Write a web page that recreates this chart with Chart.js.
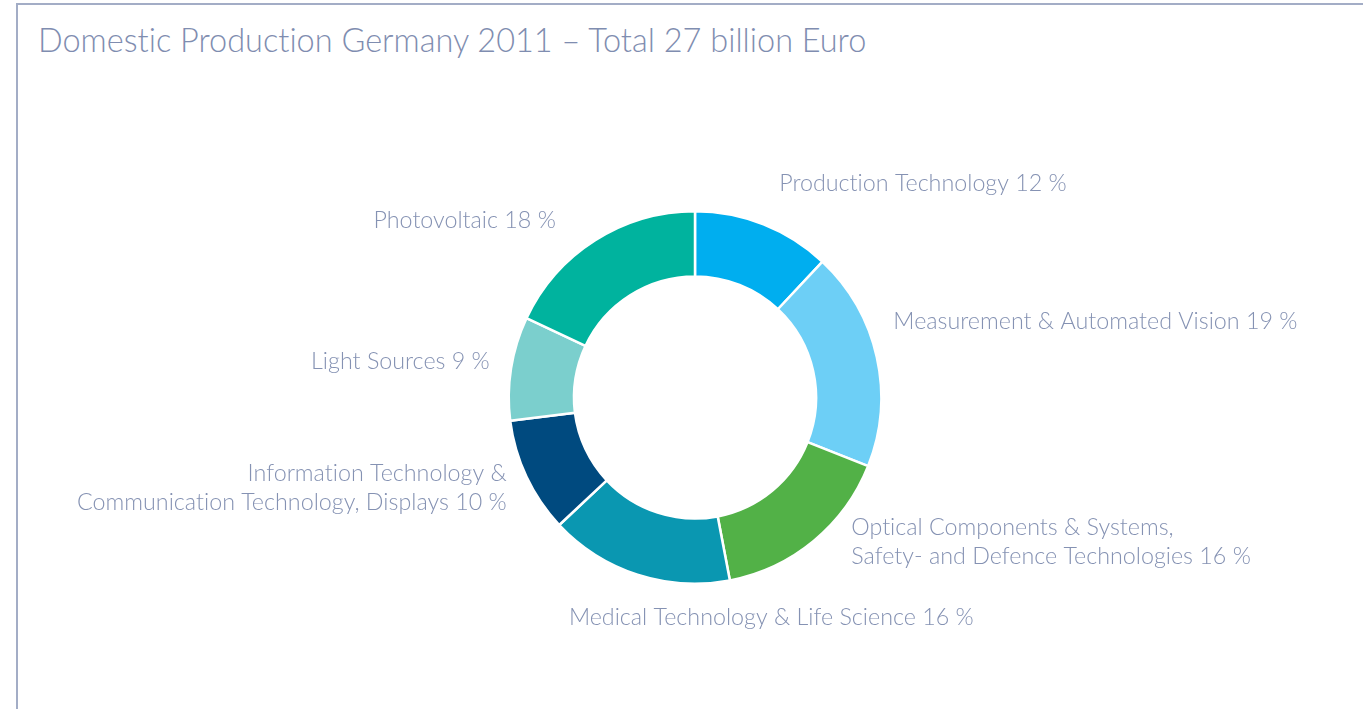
<!DOCTYPE html>
<html>
<head>
<meta charset="utf-8">
<script src="https://cdn.jsdelivr.net/npm/chart.js@4.4.1/dist/chart.umd.min.js"></script>
<style>
  html, body { margin: 0; padding: 0; background: #fff; }
  body { width: 1363px; height: 709px; overflow: hidden; position: relative; }
  .frame { position: absolute; left: 16px; top: 3px; right: -2px; bottom: -2px;
    border-left: 2px solid #a3adc6; border-top: 2px solid #a3adc6; }
  h1 { position: absolute; left: 38px; top: 20px; margin: 0;
    font: 300 32.5px Lato, "Open Sans", sans-serif; color: #7f8db0; white-space: nowrap;
    font-variant-ligatures: none; }
  canvas { position: absolute; left: 0; top: 0; }
</style>
</head>
<body>
<div class="frame"></div>
<h1>Domestic Production Germany 2011 – Total 27 billion Euro</h1>
<canvas id="chart" width="1363" height="709"></canvas>
<script>
// Anteile am Umsatz (%), im Uhrzeigersinn ab 12 Uhr
const categories = [
  ['Production Technology 12 %'],
  ['Measurement & Automated Vision 19 %'],
  ['Optical Components & Systems,', 'Safety- and Defence Technologies 16 %'],
  ['Medical Technology & Life Science 16 %'],
  ['Information Technology &', 'Communication Technology, Displays 10 %'],
  ['Light Sources 9 %'],
  ['Photovoltaic 18 %']
];
const shares = [12, 19, 16, 16, 10, 9, 18];
const colors = ['#00aeef', '#6dcff6', '#52b147', '#0a97b1', '#004a7f', '#7bcfcd', '#00b39e'];

// Beschriftungsposition relativ zum Mittelpunkt, in Einheiten des Außenradius
const labelPos = [
  { x: 0.452, y: -1.151, align: 'left' },
  { x: 1.065, y: -0.409, align: 'left' },
  { x: 0.839, y: 0.699, align: 'left' },
  { x: -0.677, y: 1.183, align: 'left' },
  { x: -1.011, y: 0.409, align: 'right' },
  { x: -1.102, y: -0.194, align: 'right' },
  { x: -0.747, y: -0.952, align: 'right' }
];

// Lato setzt "ti" sonst als Ligatur
const noLig = s => s.replace(/t(?=i)/g, 't\u200C');

const labelPlugin = {
  id: 'sliceLabels',
  afterDatasetsDraw(chart) {
    const meta = chart.getDatasetMeta(0);
    const arc0 = meta.data[0];
    if (!arc0) return;
    const { x: cx, y: cy, outerRadius: r } = arc0.getProps(['x', 'y', 'outerRadius'], true);
    const ctx = chart.ctx;
    ctx.save();
    ctx.font = '300 23.3px Lato, "Open Sans", sans-serif';
    ctx.fillStyle = '#8592b3';
    ctx.textBaseline = 'middle';
    categories.forEach((lines, i) => {
      const p = labelPos[i];
      ctx.textAlign = p.align;
      lines.forEach((line, j) => {
        ctx.fillText(noLig(line), cx + p.x * r, cy + p.y * r + j * 29);
      });
    });
    ctx.restore();
  }
};

new Chart(document.getElementById('chart'), {
  type: 'doughnut',
  data: {
    labels: categories.map(l => l.join(' ')),
    datasets: [{
      data: shares,
      backgroundColor: colors,
      borderColor: '#ffffff',
      borderWidth: 2.5
    }]
  },
  options: {
    responsive: false,
    animation: false,
    cutout: '65%',
    layout: { padding: { left: 27, right: 0, top: 210, bottom: 124 } },
    plugins: { legend: { display: false }, tooltip: { enabled: false } }
  },
  plugins: [labelPlugin]
});
</script>
</body>
</html>
